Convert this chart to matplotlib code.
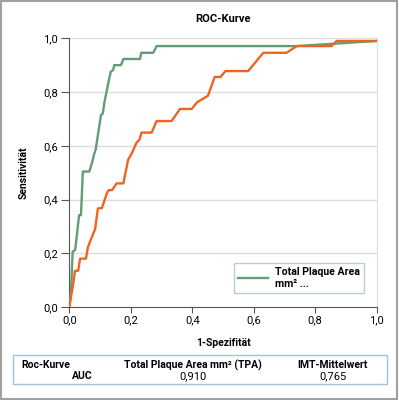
#!/usr/bin/env python
import matplotlib
matplotlib.use('Agg')
import matplotlib.pyplot as plt
from matplotlib.patches import Rectangle
from matplotlib.ticker import FuncFormatter

# ROC curve points
tpa_fpr = [0, 0.006, 0.009, 0.011, 0.019, 0.032, 0.038, 0.044, 0.065, 0.075,
           0.080, 0.086, 0.103, 0.109, 0.114, 0.130, 0.135, 0.143, 0.146, 0.168,
           0.176, 0.230, 0.234, 0.273, 0.284, 0.740, 1.0]
tpa_tpr = [0, 0.063, 0.156, 0.206, 0.212, 0.342, 0.342, 0.504, 0.504, 0.541,
           0.566, 0.587, 0.714, 0.720, 0.760, 0.851, 0.876, 0.882, 0.900, 0.900,
           0.923, 0.923, 0.946, 0.946, 0.971, 0.971, 0.990]

imt_fpr = [0, 0.013, 0.0185, 0.029, 0.035, 0.054, 0.061, 0.074, 0.084, 0.093,
           0.106, 0.122, 0.128, 0.139, 0.154, 0.176, 0.191, 0.204, 0.219, 0.228,
           0.235, 0.268, 0.284, 0.333, 0.360, 0.398, 0.416, 0.451, 0.473, 0.492,
           0.508, 0.582, 0.631, 0.707, 0.740, 0.853, 0.870, 1.0]
imt_tpr = [0, 0.088, 0.135, 0.135, 0.180, 0.180, 0.224, 0.262, 0.290, 0.367,
           0.368, 0.423, 0.435, 0.435, 0.460, 0.460, 0.547, 0.574, 0.612, 0.622,
           0.649, 0.649, 0.692, 0.692, 0.737, 0.737, 0.762, 0.786, 0.856, 0.856,
           0.878, 0.878, 0.946, 0.946, 0.971, 0.971, 0.990, 0.990]

ticks = [0.0, 0.2, 0.4, 0.6, 0.8, 1.0]
legend_label = 'Total Plaque Area\nmm² ...'
table_cols = ['Total Plaque Area mm² (TPA)', 'IMT-Mittelwert']
table_auc = [0.910, 0.765]

GREEN = '#629c78'
ORANGE = '#f06421'
FRAME = '#a8c0d4'

plt.rcParams['font.family'] = ['Roboto', 'DejaVu Sans']


def comma(v, pos=None):
    return f'{v:.1f}'.replace('.', ',')


def main():
    fig = plt.figure(figsize=(3.99, 4.0), dpi=100)
    ax = fig.add_axes([0.1737, 0.2325, 0.7704, 0.6718])

    ax.plot(tpa_fpr, tpa_tpr, color=GREEN, lw=1.7, label=legend_label, zorder=3)
    ax.plot(imt_fpr, imt_tpr, color=ORANGE, lw=1.7, zorder=4)

    ax.set_xlim(0, 1)
    ax.set_ylim(0, 1)
    ax.set_xticks(ticks)
    ax.set_yticks(ticks)
    ax.xaxis.set_major_formatter(FuncFormatter(comma))
    ax.yaxis.set_major_formatter(FuncFormatter(comma))
    ax.tick_params(axis='x', length=4, width=0.8, color='#555555', labelsize=8, pad=2)
    ax.tick_params(axis='y', length=6, width=0.8, color='#555555', labelsize=8, pad=2)

    for y in ticks[1:]:
        ax.axhline(y, color='#dddddd', lw=1, zorder=1)
    ax.spines['top'].set_visible(False)
    ax.spines['right'].set_color('#dddddd')
    ax.spines['left'].set_color('#555555')
    ax.spines['bottom'].set_color('#555555')

    ax.set_title('ROC-Kurve', fontsize=8, fontweight='bold', pad=12)
    ax.set_xlabel('1-Spezifität', fontsize=7.5, fontweight='bold', labelpad=9)
    ax.set_ylabel('Sensitivität', fontsize=7.5, fontweight='bold', labelpad=11)

    leg = ax.legend(loc='upper left', bbox_to_anchor=(0.586, 0.343),
                    bbox_transform=fig.transFigure, fancybox=False, borderaxespad=0,
                    handlelength=2.8, handletextpad=0.7, borderpad=0.4,
                    labelspacing=0.2, prop={'size': 7.6, 'weight': 'bold'})
    leg.get_frame().set_edgecolor(FRAME)
    leg.get_frame().set_linewidth(1)

    # AUC table below the chart
    fig.patches.append(Rectangle((0.0334, 0.039), 0.9356, 0.0735, transform=fig.transFigure,
                                 fill=False, edgecolor=FRAME, lw=1))
    fig.text(0.053, 0.0875, 'Roc-Kurve', fontsize=7.5, fontweight='bold', va='center')
    fig.text(0.231, 0.06, 'AUC', fontsize=7.5, fontweight='bold', va='center', ha='right')
    for x, col, auc in zip([0.483, 0.834], table_cols, table_auc):
        fig.text(x, 0.0875, col, fontsize=7.5, fontweight='bold', va='center', ha='center')
        fig.text(x, 0.06, f'{auc:.3f}'.replace('.', ','), fontsize=8, va='center', ha='center')

    # grey frame around the whole figure
    fig.patches.append(Rectangle((0.002, 0.002), 0.992, 0.996, transform=fig.transFigure,
                                 fill=False, edgecolor='#a0a0a0', lw=1.5))

    fig.savefig('out.png', dpi=100)


if __name__ == '__main__':
    main()
